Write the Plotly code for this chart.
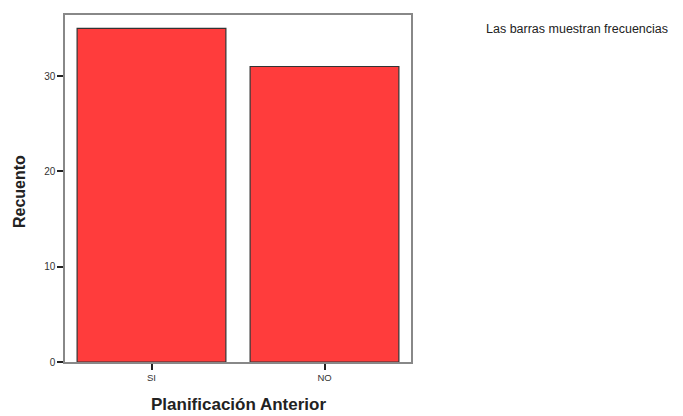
import plotly.graph_objects as go

categories = ["SI", "NO"]
counts = [35, 31]
y_ticks = [0, 10, 20, 30]

# page body has an 8px margin, so the figure is shrunk and margins reduced by it
W, H = 675, 408
L, T = 57, 7
PW, PH = 346, 347

fig = go.Figure()
fig.add_trace(go.Bar(
    x=categories, y=counts, width=0.86,
    marker=dict(color="#FF3C3C", line=dict(color="#333333", width=1.2)),
))

fig.update_layout(
    width=W, height=H,
    margin=dict(l=L, r=W - L - PW, t=T, b=H - T - PH, pad=0),
    paper_bgcolor="white", plot_bgcolor="white",
    showlegend=False,
    font=dict(family="Liberation Sans, Arial, sans-serif", color="#222222"),
    xaxis=dict(
        range=[-0.5, 1.5], showgrid=False, zeroline=False,
        showline=True, linecolor="#888888", linewidth=1.5, mirror=True,
        ticks="outside", ticklen=6, tickwidth=2, tickcolor="#222222",
        tickfont=dict(size=9.5, color="#333333"),
        automargin=False,
    ),
    yaxis=dict(
        range=[0, 36.4], tickvals=y_ticks, showgrid=False, zeroline=False,
        showline=True, linecolor="#888888", linewidth=1.5, mirror=True,
        ticks="outside", ticklen=6, tickwidth=2, tickcolor="#222222",
        tickfont=dict(size=10, color="#333333"),
        automargin=False,
    ),
    annotations=[
        dict(text="Las barras muestran frecuencias", xref="paper", yref="paper",
             x=1.0, xshift=484 - 411, y=1.0, yshift=-(29 - 15),
             xanchor="left", yanchor="middle", showarrow=False,
             font=dict(size=12.5, color="#222222")),
        dict(text="<b>Planificación Anterior</b>", xref="paper", yref="paper",
             x=0.5, y=0, yshift=-(404 - 362), xanchor="center", yanchor="middle",
             showarrow=False, font=dict(size=17, color="#222222")),
        dict(text="<b>Recuento</b>", xref="paper", yref="paper",
             x=0, xshift=-(65 - 19), y=(362 - 192) / 347, xanchor="center", yanchor="middle",
             textangle=-90, showarrow=False, font=dict(size=16, color="#222222")),
    ],
)

fig.write_html("out.html")
